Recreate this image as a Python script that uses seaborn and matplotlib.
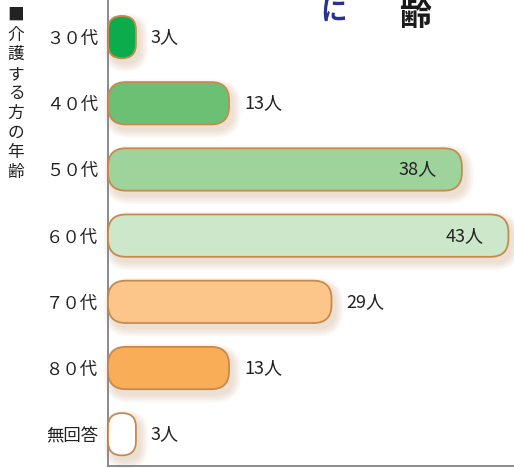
import numpy as np
import pandas as pd
import seaborn as sns
import matplotlib.pyplot as plt
from matplotlib.patches import FancyBboxPatch

# data
categories = ["３０代", "４０代", "５０代", "６０代", "７０代", "８０代", "無回答"]
counts = [3, 13, 38, 43, 29, 13, 3]              # printed labels
bar_lengths = [3, 13, 38, 43, 24, 13, 3]         # lengths as drawn in the picture
bar_colors = ["#0cab4b", "#6bc073", "#9fd39c", "#cde7cb", "#fcc68b", "#f9ad57", "#ffffff"]
label_inside = [False, False, True, True, False, False, False]

sns.set_style("white")
plt.rcParams['font.family'] = ['Noto Sans CJK JP', 'DejaVu Sans']

df = pd.DataFrame({"age": categories, "length": bar_lengths})

W, H = 514, 468
fig = plt.figure(figsize=(W / 100, H / 100), dpi=100)
ax = fig.add_axes([108 / W, 2 / H, 406 / W, 466 / H])

sns.barplot(data=df, x="length", y="age", hue="age", palette=bar_colors,
            orient="h", width=0.64, saturation=1, legend=False, ax=ax)

ax.set_xlim(0, 43.6)
ax.set_ylim(6.48, -0.56)

# pixel sizes of one data unit, to keep rounded corners circular
px_x = 406 / 43.6
px_y = 466 / 7.04
aspect = px_x / px_y
radius = 18 / px_x

for p in list(ax.patches):
    x, y = p.get_x(), p.get_y()
    w, h = p.get_width(), p.get_height()
    fc = p.get_facecolor()
    p.remove()
    r = min(radius, w / 2)
    # soft shadow
    for k in range(4):
        sh = FancyBboxPatch((x + 0.4, y + 0.08), w, h,
                            boxstyle=f"round,pad={0.1 + k * 0.25},rounding_size={r + 0.3 * k}",
                            mutation_aspect=aspect, fc="#c0906a", ec="none",
                            alpha=0.08, zorder=1, clip_on=False)
        ax.add_patch(sh)
    box = FancyBboxPatch((x, y), w, h, boxstyle=f"round,pad=0,rounding_size={r}",
                         mutation_aspect=aspect, fc=fc, ec="#c88a4c", lw=1.3, zorder=3)
    ax.add_patch(box)

# count labels
for i, (c, L, inside) in enumerate(zip(counts, bar_lengths, label_inside)):
    if inside:
        ax.text(L - 2.7, i, f"{c}人", ha="right", va="center", fontsize=13, color="#222222", zorder=4)
    else:
        ax.text(L + 1.6, i, f"{c}人", ha="left", va="center", fontsize=13, color="#222222", zorder=4)

ax.set_xlabel("")
ax.set_ylabel("")
ax.set_xticks([10, 20, 30, 40])
ax.tick_params(axis="x", direction="in", length=9, width=1.6, color="#222222", labelbottom=False)
ax.tick_params(axis="y", length=0, pad=7, labelsize=12.5, labelcolor="#222222")
sns.despine(ax=ax)
for s in ["left", "bottom"]:
    ax.spines[s].set_color("#8a8a8a")
    ax.spines[s].set_linewidth(1.4)

# vertical title on the left
fig.text(16 / W, 1 - 7 / H, "■\n介\n護\nす\nる\n方\nの\n年\n齢", ha="center", va="top",
         fontsize=12, linespacing=1.2, color="#222222")

# heading fragments at top
fig.text(333 / W, 1 - 12 / H, "に", ha="center", va="center", fontsize=19,
         fontweight="bold", color="#2a3190")
fig.text(415 / W, 1 - 16 / H, "齢", ha="center", va="center", fontsize=23,
         fontweight="bold", color="#1a1a1a")

fig.savefig("out.png", dpi=100)
